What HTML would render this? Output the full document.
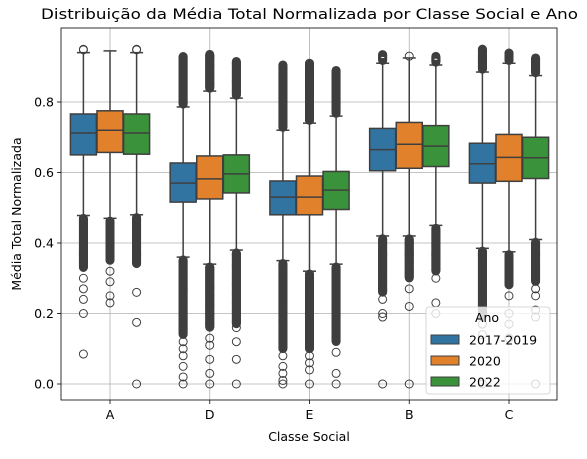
<!DOCTYPE html>
<html><head><meta charset="utf-8"><style>
body{margin:0;background:#fff}
svg text{font-family:"DejaVu Sans","Liberation Sans",sans-serif;fill:#000}
</style></head><body>
<svg id="c" width="587" height="454" viewBox="0 0 587 454" xmlns="http://www.w3.org/2000/svg"></svg>
<script>
const categories=["A","D","E","B","C"];
const years=["2017-2019","2020","2022"];
const colors=["#3274a1","#e1812c","#3a923a"];
const yTicks=[0.0,0.2,0.4,0.6,0.8];
const q1=[[.650,.657,.652],[.516,.525,.542],[.48,.48,.495],[.605,.612,.617],[.57,.575,.583]];
const med=[[.712,.72,.712],[.570,.582,.596],[.53,.53,.55],[.665,.68,.675],[.625,.643,.642]];
const q3=[[.766,.775,.766],[.627,.647,.650],[.576,.59,.603],[.725,.742,.733],[.683,.708,.70]];
const whiskLo=[[.478,.47,.48],[.36,.34,.38],[.35,.32,.34],[.42,.42,.45],[.385,.375,.41]];
const whiskHi=[[.94,.945,.94],[.786,.831,.811],[.72,.74,.76],[.91,.925,.905],[.885,.91,.875]];
const denseHiTop=[[.95,null,.95],[.93,.935,.915],[.905,.91,.89],[.935,null,.93],[.95,.94,.925]];
const denseLoBottom=[[.33,.35,.34],[.14,.16,.17],[.1,.1,.12],[.26,.3,.32],[.19,.28,.29]];
const sparse=[[[.3,.27,.24,.2,.085],[.32,.29,.25,.23],[.26,.175,0]],
[[.12,.1,.08,.05,.02,0],[.13,.11,.07,.03,0],[.16,.12,.07,0]],
[[.08,.05,.03,.01,0],[.08,.06,.04,0],[.09,.03,0]],
[[.24,.2,.19,0],[.27,.22,0,.93],[.3,.23,.2]],
[[.17,.14,0],[.25,.2,.17,.13],[.27,.25,.21,.19,0]]];
const svg=document.getElementById('c');const NS="http://www.w3.org/2000/svg";
const L=61,R=557,T=28,B=400;
const y=v=>384-352.5*v;
const xc=i=>110+i*99.75;
function mk(t,a,p){const e=document.createElementNS(NS,t);for(const k in a)e.setAttribute(k,a[k]);(p||svg).appendChild(e);return e;}
yTicks.forEach(v=>{const g=mk('line',{x1:L,x2:R,y1:y(v),y2:y(v),stroke:'#b0b0b0','stroke-width':0.8});

mk('line',{x1:L-4,x2:L,y1:y(v),y2:y(v),stroke:'#000','stroke-width':0.8});
const t=mk('text',{x:L-7,y:y(v)+4.5,'font-size':12.5,'text-anchor':'end'});t.textContent=v.toFixed(1);
});
categories.forEach((c,i)=>{const g=mk('line',{x1:xc(i),x2:xc(i),y1:T,y2:B,stroke:'#b0b0b0','stroke-width':0.8});

mk('line',{x1:xc(i),x2:xc(i),y1:B,y2:B+4,stroke:'#000','stroke-width':0.8});
const t=mk('text',{x:xc(i),y:B+19,'font-size':12.5,'text-anchor':'middle'});t.textContent=c;
});
const W=26.6,bw=26;
categories.forEach((c,i)=>{years.forEach((yr,j)=>{
 const cx=xc(i)+(j-1)*W;const g=mk('g',{});
 
 const circ=v=>mk('circle',{cx:cx,cy:y(v),r:4,fill:'none',stroke:'#3f3f3f','stroke-width':1},g);
 if(denseHiTop[i][j]!=null){for(let v=whiskHi[i][j]+0.008;v<=denseHiTop[i][j];v+=0.0015)circ(v);}
 for(let v=whiskLo[i][j]-0.008;v>=denseLoBottom[i][j];v-=0.0015)circ(v);
 sparse[i][j].forEach(circ);
 mk('line',{x1:cx,x2:cx,y1:y(whiskHi[i][j]),y2:y(q3[i][j]),stroke:'#3f3f3f','stroke-width':1.5},g);
 mk('line',{x1:cx,x2:cx,y1:y(whiskLo[i][j]),y2:y(q1[i][j]),stroke:'#3f3f3f','stroke-width':1.5},g);
 mk('line',{x1:cx-6.5,x2:cx+6.5,y1:y(whiskHi[i][j]),y2:y(whiskHi[i][j]),stroke:'#3f3f3f','stroke-width':1.5},g);
 mk('line',{x1:cx-6.5,x2:cx+6.5,y1:y(whiskLo[i][j]),y2:y(whiskLo[i][j]),stroke:'#3f3f3f','stroke-width':1.5},g);
 mk('rect',{x:cx-bw/2,y:y(q3[i][j]),width:bw,height:y(q1[i][j])-y(q3[i][j]),fill:colors[j],stroke:'#3f3f3f','stroke-width':1.5},g);
 mk('line',{x1:cx-bw/2,x2:cx+bw/2,y1:y(med[i][j]),y2:y(med[i][j]),stroke:'#3f3f3f','stroke-width':1.5},g);
});});
mk('rect',{x:L,y:T,width:R-L,height:B-T,fill:'none',stroke:'#000','stroke-width':0.8});
let t=mk('text',{x:41,y:19,'font-size':14.5,textLength:537,lengthAdjust:'spacingAndGlyphs'});t.textContent='Distribuição da Média Total Normalizada por Classe Social e Ano';

t=mk('text',{x:(L+R)/2,y:441,'font-size':12.5,'text-anchor':'middle'});t.textContent='Classe Social';

t=mk('text',{x:0,y:0,'font-size':12.5,'text-anchor':'middle',transform:'translate(21,214) rotate(-90)'});t.textContent='Média Total Normalizada';

const lg=mk('g',{});
mk('rect',{x:426,y:307,width:124,height:87,rx:3,fill:'#fff','fill-opacity':0.8,stroke:'#ccc','stroke-width':0.8},lg);
t=mk('text',{x:487,y:322,'font-size':12.5,'text-anchor':'middle'},lg);t.textContent='Ano';
years.forEach((yr,j)=>{const e=mk('g',{},lg);
mk('rect',{x:431,y:335+j*21,width:28,height:9,fill:colors[j],stroke:'#3f3f3f','stroke-width':1},e);
const tt=mk('text',{x:469,y:344.5+j*21,'font-size':12.5},e);tt.textContent=yr;});
</script>
</body></html>
